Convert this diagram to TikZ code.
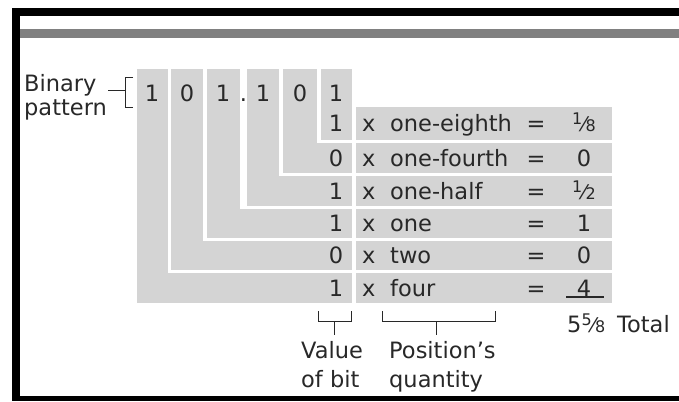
\documentclass[tikz,border=0pt]{standalone}
\usepackage{fontspec}
\setmainfont{DejaVu Sans}
\usepackage{xcolor}
\usepackage{tikz}
\usetikzlibrary{positioning, calc}

\definecolor{boxgray}{RGB}{212,212,212}
\definecolor{inkgray}{RGB}{40,40,40}
\definecolor{rulegray}{RGB}{128,128,128}

% small built-up fraction, as in 1/8
\newcommand{\bitfrac}[2]{\raisebox{0.3em}{\fontsize{16}{16}\selectfont #1}%
  {\fontsize{20}{20}\selectfont ⁄}{\fontsize{16}{16}\selectfont #2}}

\begin{document}
\begin{tikzpicture}[x=1pt, y=-1pt,
  every node/.style={text=inkgray, inner sep=0pt, font=\fontsize{22.5}{26}\selectfont},
  brk/.style={draw=inkgray, line width=1pt}]

\useasboundingbox (0,0) rectangle (679,401);

% --- frame and rule ---
\fill[black] (12,8) rectangle (679,16);
\fill[black] (12,8) rectangle (20,401);
\fill[black] (12,396) rectangle (679,401);
\fill[rulegray] (20,29) rectangle (679,38);

% --- nested bit columns (outermost first) ---
\fill[boxgray] (137,69) rectangle (352,303);
\foreach \gx/\lx/\by in {168/171/270, 203/207/238, 240/247/206, 279/283/173, 317/321/140} {
  \fill[white] (\gx,69) rectangle (352,\by+3);
  \fill[boxgray] (\lx,69) rectangle (352,\by);
}

% --- product rows ---
\foreach \t/\b in {107/140, 143/173, 176/206, 209/238, 241/270, 273/303}
  \fill[boxgray] (356,\t) rectangle (612,\b);

% --- bit pattern ---
\node[anchor=base] (b1) at (152,102) {1};
\node[anchor=base] (b2) at (187,102) {0};
\node[anchor=base] (b3) at (223,102) {1};
\node[anchor=base] (pt) at (243.5,102) {.};
\node[anchor=base] (b4) at (263,102) {1};
\node[anchor=base] (b5) at (300,102) {0};
\node[anchor=base] (b6) at (336,102) {1};

% --- rows: bit x quantity = value ---
\foreach \i/\y/\d/\w/\v in {1/131.5/1/one-eighth/{\bitfrac{1}{8}}, 2/166/0/one-fourth/0,
                            3/199/1/one-half/{\bitfrac{1}{2}}, 4/231.5/1/one/1,
                            5/263.5/0/two/0, 6/296/1/four/4} {
  \node[anchor=base] (d\i) at (336,\y) {\d};
  \node[anchor=base west] (x\i) at (362,\y) {x};
  \node[anchor=base west] (w\i) at (390,\y) {\w};
  \node[anchor=base] (e\i) at (536,\y) {=};
  \node[anchor=base] (v\i) at (584,\y) {\v};
}
\draw[inkgray, line width=1.2pt] (566,297) -- (604,297);

% --- total ---
\node[anchor=base west] (sum) at (567,332) {5\bitfrac{5}{8}};
\node[anchor=base west] (total) at (617,332) {Total};

% --- binary pattern label ---
\node[anchor=base west] (bin) at (24,92) {Binary};
\node[anchor=base west] (pat) at (24,115) {pattern};
\coordinate (bt) at (133,78);
\coordinate (bb) at (133,108);
\draw[brk] (108,91) -- (125,91);
\draw[brk] (bt) -- (125,78) -- (125,108) -- (bb);

% --- bottom brackets ---
\coordinate (vl) at (318,311);
\coordinate (vr) at (351,311);
\coordinate (ql) at (382,311);
\coordinate (qr) at (495,311);
\draw[brk] (vl) -- (318,321) -- (351,321) -- (vr);
\draw[brk] (334,321) -- (334,335);
\draw[brk] (ql) -- (382,321) -- (495,321) -- (qr);
\draw[brk] (436,321) -- (436,335);

\node[anchor=base west] (val) at (301,358) {Value};
\node[anchor=base west] (ofb) at (301,387) {of bit};
\node[anchor=base west] (pos) at (389,358) {Position’s};
\node[anchor=base west] (qty) at (389,387) {quantity};

\end{tikzpicture}
\end{document}
